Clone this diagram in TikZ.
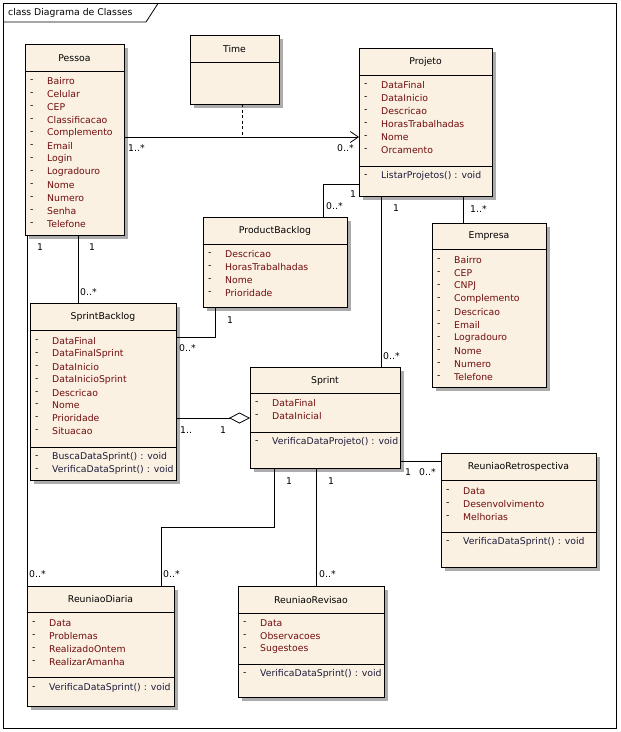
\documentclass[tikz,border=0pt]{standalone}
\usepackage{fontspec}
\setmainfont{DejaVu Sans}
\usetikzlibrary{arrows.meta,shadows,calc}
\definecolor{boxfill}{RGB}{251,241,227}
\definecolor{attrcol}{RGB}{112,12,12}
\definecolor{methcol}{RGB}{28,28,58}
\definecolor{shadowcol}{RGB}{172,172,172}
\newcommand\fnt{\fontsize{9.3}{11}\selectfont}
\tikzset{
  classbox/.style={draw=black, line width=0.8pt, fill=boxfill, inner sep=0pt, outer sep=0pt,
    anchor=north west, general shadow={fill=shadowcol, shadow xshift=3.5pt, shadow yshift=-3.5pt}},
  sepline/.style={line width=0.8pt},
  titletext/.style={font=\fnt, inner sep=0pt},
  attrtext/.style={font=\fnt, text=attrcol, inner sep=0pt, anchor=west},
  methtext/.style={font=\fnt, text=methcol, inner sep=0pt, anchor=west},
  dashmark/.style={font=\fnt, inner sep=0pt, anchor=west},
  conn/.style={line width=0.8pt},
  mult/.style={font=\fnt, inner sep=0pt, anchor=west},
}
% #1 id, #2 x1, #3 y1, #4 x2, #5 y2, #6 header separator y, #7 title
\newcommand\umlclass[7]{%
  \node[classbox, minimum width={(#4-#2)*1pt}, minimum height={(#5-#3)*1pt}] (#1) at (#2,#3) {};
  \draw[sepline] (#2,#6) -- (#4,#6);
  \node[titletext] (#1-title) at ({(#2+#4)/2},{(#3+#6)/2+0.5}) {#7};
}
% #1 box x1, #2 y, #3 text
\newcommand\umlattr[3]{%
  \node[dashmark] at ({#1+5},#2) {-};
  \node[attrtext] at ({#1+22},#2) {#3};
}
\newcommand\umlmeth[3]{%
  \node[dashmark] at ({#1+5},#2) {-};
  \node[methtext] at ({#1+22},#2) {#3};
}
\begin{document}
\begin{tikzpicture}[x=1pt,y=-1pt]
\useasboundingbox (0,0) rectangle (621,732);
\fill[white] (0,0) rectangle (621,732);
% frame
\draw[line width=0.8pt] (3.5,3.5) rectangle (616.5,728.5);
\draw[line width=0.8pt] (3.5,22) -- (146,22) -- (158,3.5);
\node[font=\fnt, inner sep=0pt, anchor=west] (frametitle) at (8,13) {class Diagrama de Classes};

% Pessoa
\umlclass{pessoa}{25}{44}{124}{235}{71}{Pessoa}
\foreach \t [count=\i from 0] in {Bairro,Celular,CEP,Classificacao,Complemento,Email,Login,Logradouro,Nome,Numero,Senha,Telefone}
  {\umlattr{25}{81+13*\i}{\t}}

% Time
\umlclass{time}{190}{35}{279}{104}{62}{Time}

% Projeto
\umlclass{projeto}{359}{48}{492}{196}{75}{Projeto}
\foreach \t [count=\i from 0] in {DataFinal,DataInicio,Descricao,HorasTrabalhadas,Nome,Orcamento}
  {\umlattr{359}{85+13.1*\i}{\t}}
\draw[sepline] (359,166) -- (492,166);
\umlmeth{359}{176}{ListarProjetos() : void}

% ProductBacklog
\umlclass{pb}{203}{217}{347}{307}{244}{ProductBacklog}
\foreach \t [count=\i from 0] in {Descricao,HorasTrabalhadas,Nome,Prioridade}
  {\umlattr{203}{254+13*\i}{\t}}

% Empresa
\umlclass{empresa}{432}{223}{546}{387}{249}{Empresa}
\foreach \t [count=\i from 0] in {Bairro,CEP,CNPJ,Complemento,Descricao,Email,Logradouro,Nome,Numero,Telefone}
  {\umlattr{432}{260+13*\i}{\t}}

% SprintBacklog
\umlclass{sb}{30}{303}{176}{480}{330}{SprintBacklog}
\foreach \t [count=\i from 0] in {DataFinal,DataFinalSprint,DataInicio,DataInicioSprint,Descricao,Nome,Prioridade,Situacao}
  {\umlattr{30}{341+12.9*\i}{\t}}
\draw[sepline] (30,447) -- (176,447);
\umlmeth{30}{457}{BuscaDataSprint() : void}
\umlmeth{30}{470}{VerificaDataSprint() : void}

% Sprint
\umlclass{sprint}{250}{367}{400}{468}{393}{Sprint}
\umlattr{250}{403}{DataFinal}
\umlattr{250}{416}{DataInicial}
\draw[sepline] (250,432) -- (400,432);
\umlmeth{250}{442}{VerificaDataProjeto() : void}

% ReuniaoRetrospectiva
\umlclass{rr}{441}{453}{596}{567}{480}{ReuniaoRetrospectiva}
\umlattr{441}{491}{Data}
\umlattr{441}{504}{Desenvolvimento}
\umlattr{441}{517}{Melhorias}
\draw[sepline] (441,532) -- (596,532);
\umlmeth{441}{542}{VerificaDataSprint() : void}

% ReuniaoDiaria
\umlclass{rd}{27}{586}{174}{706}{612}{ReuniaoDiaria}
\foreach \t [count=\i from 0] in {Data,Problemas,RealizadoOntem,RealizarAmanha}
  {\umlattr{27}{623+12.9*\i}{\t}}
\draw[sepline] (27,677) -- (174,677);
\umlmeth{27}{688}{VerificaDataSprint() : void}

% ReuniaoRevisao
\umlclass{rrev}{238}{586}{384}{697}{613}{ReuniaoRevisao}
\umlattr{238}{623}{Data}
\umlattr{238}{636}{Observacoes}
\umlattr{238}{649}{Sugestoes}
\draw[sepline] (238,664) -- (384,664);
\umlmeth{238}{674}{VerificaDataSprint() : void}

% ---------------- connectors ----------------
% Pessoa -> Projeto (navigable)
\coordinate (ppY) at (0,137);
\draw[conn, -{Straight Barb[length=8pt,width=11pt,line width=0.8pt]}] (pessoa.east |- ppY) -- (projeto.west |- ppY);
\node[mult] at (128,148) {1..*};
\node[mult] at (337,148) {0..*};
% Time association class (dashed)
\draw[conn, dash pattern=on 3pt off 2.5pt] (time.south -| 242,0) -- (242,137);

% Projeto -- ProductBacklog
\coordinate (pjpbA) at (323,184);
\draw[conn] (projeto.west |- pjpbA) -- (pjpbA) -- (pjpbA |- pb.north);
\node[mult] at (350,194) {1};
\node[mult] at (326,206) {0..*};

% Projeto -- Empresa
\draw[conn] (projeto.south -| 463,0) -- (empresa.north -| 463,0);
\node[mult] at (470,209) {1..*};

% Projeto -- Sprint
\draw[conn] (projeto.south -| 381,0) -- (sprint.north -| 381,0);
\node[mult] at (393,208) {1};
\node[mult] at (383,356) {0..*};

% Pessoa -- SprintBacklog
\draw[conn] (pessoa.south -| 78,0) -- (sb.north -| 78,0);
\node[mult] at (89,247) {1};
\node[mult] at (80,292) {0..*};

% Pessoa -- ReuniaoDiaria
\draw[conn] (pessoa.south -| rd.west) -- (rd.north west);
\node[mult] at (37,247) {1};
\node[mult] at (29,574) {0..*};

% ProductBacklog -- SprintBacklog
\coordinate (pbsbA) at (215,337);
\draw[conn] (pb.south -| pbsbA) -- (pbsbA) -- (sb.east |- pbsbA);
\node[mult] at (227,320) {1};
\node[mult] at (179,348) {0..*};

% SprintBacklog -- Sprint (aggregation)
\coordinate (aggY) at (0,418);
\draw[conn, {Diamond[open,length=21pt,width=11pt,line width=0.8pt]}-] (sprint.west |- aggY) -- (sb.east |- aggY);
\node[mult] at (180,430) {1..};
\node[mult] at (220,430) {1};

% Sprint -- ReuniaoRetrospectiva
\coordinate (srY) at (0,461);
\draw[conn] (sprint.east |- srY) -- (rr.west |- srY);
\node[mult] at (405,472) {1};
\node[mult] at (419,472) {0..*};

% Sprint -- ReuniaoDiaria
\coordinate (sdA) at (274,527);
\coordinate (sdB) at (161,527);
\draw[conn] (sprint.south -| sdA) -- (sdA) -- (sdB) -- (rd.north -| sdB);
\node[mult] at (286,481) {1};
\node[mult] at (163,574) {0..*};

% Sprint -- ReuniaoRevisao
\draw[conn] (sprint.south -| 316,0) -- (rrev.north -| 316,0);
\node[mult] at (328,481) {1};
\node[mult] at (319,574) {0..*};
\end{tikzpicture}
\end{document}
